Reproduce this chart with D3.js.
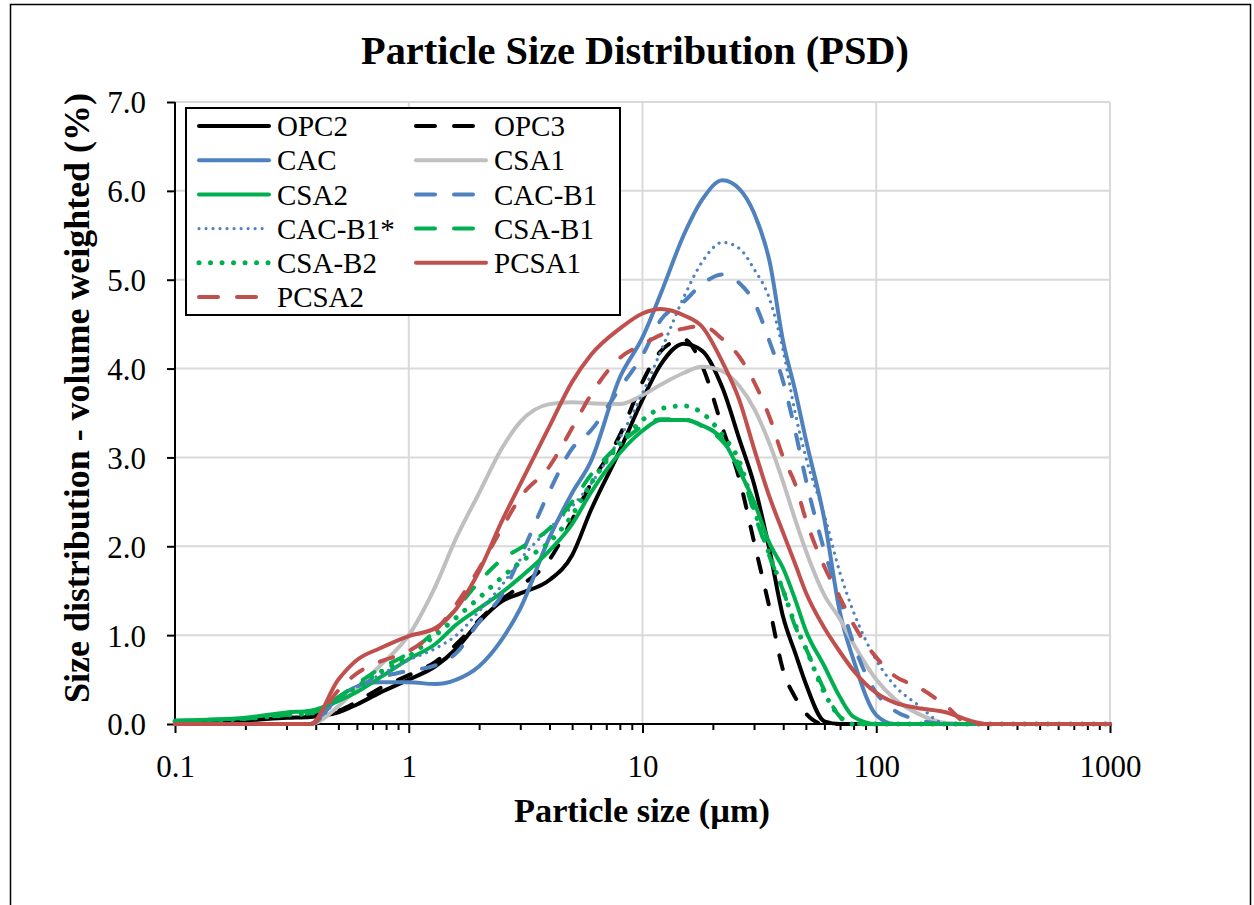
<!DOCTYPE html>
<html lang="en">
<head>
<meta charset="UTF-8">
<title>Particle Size Distribution (PSD)</title>
<script src="https://cdnjs.cloudflare.com/ajax/libs/d3/7.8.5/d3.min.js"></script>
<style>
  body { margin: 0; background: #fff; }
  svg { display: block; font-family: "Liberation Serif", "DejaVu Serif", serif; }
</style>
</head>
<body>
<svg id="chart" width="1254" height="905"></svg>
<script>
// particle sizes in µm (shared x grid)
const sizes = [0.1, 0.15, 0.2, 0.3, 0.38, 0.5, 0.6, 0.75, 1, 1.3, 1.6, 2, 2.5, 3, 4, 5, 6, 8, 10, 12,
  15, 18, 22, 26, 30, 35, 40, 45, 50, 60, 70, 80, 100, 120, 150, 200, 250, 300, 500, 1000];

// volume weighted size distribution (%)
const opc2 = [0.02, 0.03, 0.04, 0.07, 0.08, 0.13, 0.22, 0.35, 0.5, 0.65, 0.85, 1.15, 1.38, 1.47, 1.62, 1.9, 2.4, 3.08, 3.65, 4.05,
  4.28, 4.2, 3.78, 3.2, 2.7, 1.95, 1.2, 0.8, 0.45, 0.03, 0, 0, 0, 0, 0, 0, 0, 0, 0, 0];
const opc3 = [0.02, 0.03, 0.05, 0.08, 0.1, 0.15, 0.25, 0.4, 0.55, 0.7, 0.9, 1.17, 1.4, 1.55, 1.85, 2.3, 2.7, 3.25, 3.85, 4.2,
  4.33, 4.03, 3.33, 2.75, 2.05, 1.3, 0.6, 0.3, 0.12, 0, 0, 0, 0, 0, 0, 0, 0, 0, 0, 0];
const cac = [0, 0, 0, 0, 0, 0.3, 0.42, 0.47, 0.47, 0.45, 0.5, 0.65, 0.95, 1.3, 2.1, 2.6, 2.95, 3.9, 4.35, 4.85,
  5.5, 5.9, 6.12, 6.02, 5.75, 5.2, 4.3, 3.75, 3.2, 2.3, 1.25, 0.72, 0.1, 0, 0, 0, 0, 0, 0, 0];
const csa1 = [0, 0, 0, 0, 0, 0.2, 0.4, 0.65, 1.0, 1.55, 2.1, 2.6, 3.1, 3.4, 3.6, 3.62, 3.61, 3.6, 3.7, 3.82,
  3.95, 4.02, 3.97, 3.8, 3.55, 3.15, 2.72, 2.3, 1.95, 1.45, 1.18, 0.9, 0.5, 0.28, 0.12, 0.01, 0, 0, 0, 0];
const csa2 = [0.04, 0.05, 0.07, 0.13, 0.15, 0.26, 0.36, 0.52, 0.73, 0.9, 1.12, 1.3, 1.48, 1.65, 1.95, 2.25, 2.6, 3.05, 3.3, 3.42,
  3.42, 3.36, 3.2, 2.85, 2.5, 2.03, 1.75, 1.4, 1.05, 0.65, 0.3, 0.08, 0, 0, 0, 0, 0, 0, 0, 0];
const cacB1 = [0, 0, 0, 0, 0, 0.3, 0.42, 0.52, 0.6, 0.66, 0.8, 1.15, 1.45, 1.88, 2.62, 3.1, 3.3, 3.78, 4.15, 4.55,
  4.75, 4.95, 5.06, 4.96, 4.75, 4.3, 3.85, 3.3, 2.75, 1.95, 1.4, 0.9, 0.35, 0.15, 0.05, 0, 0, 0, 0, 0];
const cacB1s = [0, 0, 0, 0, 0, 0.28, 0.42, 0.55, 0.72, 0.85, 1.0, 1.27, 1.56, 1.85, 2.2, 2.45, 2.7, 3.22, 3.72, 4.2,
  4.8, 5.2, 5.42, 5.35, 5.12, 4.78, 4.2, 3.5, 3.0, 2.35, 1.7, 1.26, 0.72, 0.43, 0.22, 0, 0, 0, 0, 0];
const csaB1 = [0.03, 0.05, 0.06, 0.1, 0.12, 0.3, 0.45, 0.62, 0.8, 1.05, 1.3, 1.6, 1.85, 1.98, 2.2, 2.5, 2.8, 3.15, 3.35, 3.43,
  3.43, 3.35, 3.18, 2.9, 2.38, 1.88, 1.5, 1.1, 0.85, 0.38, 0.08, 0, 0, 0, 0, 0, 0, 0, 0, 0];
const csaB2 = [0.03, 0.04, 0.06, 0.1, 0.12, 0.28, 0.42, 0.58, 0.76, 1.0, 1.2, 1.42, 1.65, 1.82, 2.05, 2.35, 2.7, 3.15, 3.42, 3.55,
  3.58, 3.5, 3.25, 2.95, 2.42, 1.9, 1.5, 1.12, 0.85, 0.35, 0.08, 0, 0, 0, 0, 0, 0, 0, 0, 0];
const pcsa1 = [0, 0, 0, 0, 0, 0.5, 0.72, 0.85, 0.99, 1.08, 1.3, 1.72, 2.28, 2.7, 3.35, 3.85, 4.15, 4.45, 4.62, 4.67,
  4.6, 4.47, 4.07, 3.64, 3.1, 2.55, 2.15, 1.8, 1.48, 1.08, 0.81, 0.6, 0.35, 0.24, 0.18, 0.13, 0.04, 0, 0, 0];
const pcsa2 = [0, 0, 0, 0, 0, 0.38, 0.57, 0.7, 0.82, 1.05, 1.35, 1.75, 2.2, 2.55, 2.9, 3.33, 3.7, 4.12, 4.27, 4.38,
  4.45, 4.48, 4.33, 4.13, 3.85, 3.45, 3.0, 2.7, 2.3, 1.77, 1.42, 1.12, 0.75, 0.54, 0.42, 0.2, 0, 0, 0, 0];

const xTicks = [0.1, 1, 10, 100, 1000];
const yTicks = [0, 1, 2, 3, 4, 5, 6, 7];

const blue = "#4F81BD", green = "#00B050", red = "#C0504D", grey = "#BFBFBF";
const series = [
  { name: "OPC2", values: opc2, color: "#000", dash: null, width: 4 },
  { name: "OPC3", values: opc3, color: "#000", dash: "14,19", width: 4 },
  { name: "CAC", values: cac, color: blue, dash: null, width: 4 },
  { name: "CSA1", values: csa1, color: grey, dash: null, width: 4 },
  { name: "CSA2", values: csa2, color: green, dash: null, width: 4 },
  { name: "CAC-B1", values: cacB1, color: blue, dash: "14,19", width: 4 },
  { name: "CAC-B1*", values: cacB1s, color: blue, dash: "0.01,7", width: 3.2 },
  { name: "CSA-B1", values: csaB1, color: green, dash: "14,19", width: 4 },
  { name: "CSA-B2", values: csaB2, color: green, dash: "0.01,11.5", width: 5 },
  { name: "PCSA1", values: pcsa1, color: red, dash: null, width: 4 },
  { name: "PCSA2", values: pcsa2, color: red, dash: "14,19", width: 4 }
];

const svg = d3.select("#chart");
const plotLeft = 175, plotRight = 1110, plotTop = 102, plotBottom = 724;

// chart border
svg.append("rect").attr("x", 10.5).attr("y", 4.5).attr("width", 1240).attr("height", 1000)
  .attr("fill", "#fff").attr("stroke", "#000").attr("stroke-width", 1.5);

const x = d3.scaleLog().domain([0.1, 1000]).range([plotLeft, plotRight]);
const y = d3.scaleLinear().domain([0, 7]).range([plotBottom, plotTop]);

// gridlines
svg.append("g").selectAll("line").data(yTicks.slice(1)).join("line")
  .attr("x1", plotLeft).attr("x2", plotRight).attr("y1", d => y(d)).attr("y2", d => y(d))
  .attr("stroke", "#D9D9D9").attr("stroke-width", 2);
svg.append("g").selectAll("line").data(xTicks.slice(1)).join("line")
  .attr("x1", d => x(d)).attr("x2", d => x(d)).attr("y1", plotTop).attr("y2", plotBottom)
  .attr("stroke", "#D9D9D9").attr("stroke-width", 2);

// axes
const minor = [];
for (let e = -1; e < 3; e++) for (let m = 2; m <= 9; m++) minor.push(m * Math.pow(10, e));

const xAxis = svg.append("g").attr("transform", `translate(0,${plotBottom})`)
  .call(d3.axisBottom(x).tickValues(xTicks).tickFormat(d => String(d)).tickSize(9).tickPadding(22));
svg.append("g").attr("transform", `translate(0,${plotBottom})`)
  .call(d3.axisBottom(x).tickValues(minor).tickFormat("").tickSize(6))
  .call(g => g.select(".domain").remove());
const yAxis = svg.append("g").attr("transform", `translate(${plotLeft},0)`)
  .call(d3.axisLeft(y).tickValues(yTicks).tickFormat(d3.format(".1f")).tickSize(8).tickPadding(21));

svg.selectAll(".tick line").attr("stroke", "#000").attr("stroke-width", 2);
svg.selectAll(".domain").attr("stroke", "#000").attr("stroke-width", 2);
xAxis.selectAll("text").attr("font-size", 31).attr("font-family", "Liberation Serif").attr("fill", "#000");
yAxis.selectAll("text").attr("font-size", 31).attr("font-family", "Liberation Serif").attr("fill", "#000")
  .attr("dy", "0.35em");
xAxis.select(".domain").attr("d", `M${plotLeft},0H${plotRight}`);
yAxis.select(".domain").attr("d", `M0,${plotBottom}V${plotTop}`);

// series
const line = d3.line().x((d, i) => x(sizes[i])).y(d => y(d)).curve(d3.curveMonotoneX);
svg.append("g").selectAll("path").data(series).join("path")
  .attr("d", s => line(s.values))
  .attr("fill", "none")
  .attr("stroke", s => s.color)
  .attr("stroke-width", s => s.width)
  .attr("stroke-dasharray", s => s.dash)
  .attr("stroke-linecap", s => s.dash ? "round" : "butt")
  .attr("stroke-linejoin", "round");

// legend
const leg = svg.append("g");
leg.append("rect").attr("x", 186).attr("y", 108).attr("width", 434).attr("height", 207)
  .attr("fill", "#fff").attr("stroke", "#000").attr("stroke-width", 2);
const items = leg.selectAll("g").data(series).join("g")
  .attr("transform", (s, i) => `translate(${i % 2 ? 415 : 198},${126 + Math.floor(i / 2) * 34.2})`);
items.append("line").attr("x1", 1).attr("x2", 71).attr("y1", 0).attr("y2", 0)
  .attr("stroke", s => s.color)
  .attr("stroke-width", s => s.width)
  .attr("stroke-dasharray", s => s.dash ? (s.dash === "14,19" ? "19,19" : s.dash) : null)
  .attr("stroke-linecap", "round");
items.append("text").attr("x", 79).attr("dy", "0.35em").attr("font-size", 29).text(s => s.name);

// titles
function fit(sel, target) {
  const size = +sel.attr("font-size");
  const w = sel.node().getComputedTextLength();
  sel.attr("font-size", size * target / w);
}
svg.append("text").attr("x", 635).attr("y", 64).attr("text-anchor", "middle")
  .attr("font-weight", "bold").attr("font-size", 32).text("Particle Size Distribution (PSD)")
  .call(fit, 548);
svg.append("text").attr("x", 642).attr("y", 822).attr("text-anchor", "middle")
  .attr("font-weight", "bold").attr("font-size", 28).text("Particle size (µm)")
  .call(fit, 256);
svg.append("text").attr("transform", "translate(89,398) rotate(-90)").attr("text-anchor", "middle")
  .attr("font-weight", "bold").attr("font-size", 26).text("Size distribution - volume weighted (%)")
  .call(fit, 610);
</script>
</body>
</html>
